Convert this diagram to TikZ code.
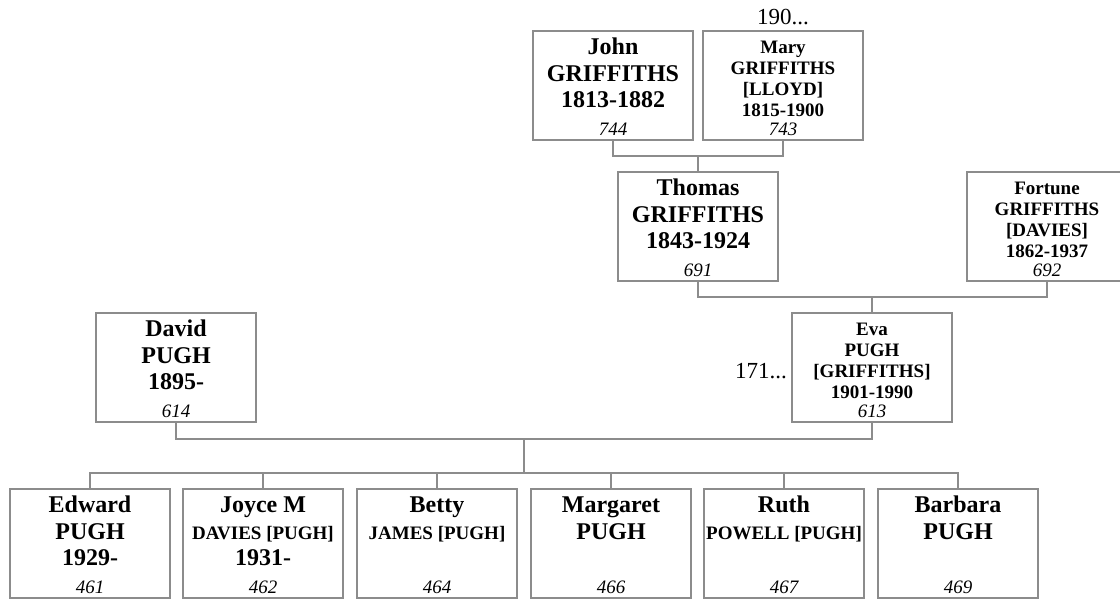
\documentclass[tikz,border=0pt]{standalone}
\usepackage{fontspec}
\setmainfont{Liberation Serif}
\definecolor{linec}{RGB}{140,140,140}
\tikzset{
  pbox/.style={draw=linec, line width=1.3pt, minimum width=160pt, minimum height=109pt, inner sep=0pt, outer sep=0pt},
  ptext/.style={anchor=north, align=center, inner sep=0pt, font=\fontsize{24}{26.7}\selectfont\bfseries},
  ptextsmall/.style={anchor=north, align=center, inner sep=0pt, font=\fontsize{19}{21}\selectfont\bfseries},
  pnum/.style={anchor=base, inner sep=0pt, font=\fontsize{19}{21}\selectfont\itshape},
  conn/.style={draw=linec, line width=1.3pt},
  extra/.style={inner sep=0pt, font=\fontsize{23}{25}\selectfont}
}
\newcommand\pbig[5]{%
  \node[pbox] (#1) at (#2,#3+54.5) {};
  \node[ptext] (#1-t) at (#2,#3+5.3) {\rule{0pt}{18pt}#4};
  \node[pnum] (#1-n) at (#2,#3+104.5) {#5};
}
\newcommand\psmall[5]{%
  \node[pbox] (#1) at (#2,#3+54.5) {};
  \node[ptextsmall] (#1-t) at (#2,#3+4.3) {\rule{0pt}{18pt}#4};
  \node[pnum] (#1-n) at (#2,#3+104.5) {#5};
}
\newcommand\sm[1]{{\fontsize{19}{21}\selectfont #1}}
\begin{document}
\begin{tikzpicture}[x=1pt,y=-1pt]
\useasboundingbox (0,0) rectangle (1120,599);
\clip (0,0) rectangle (1120,599);

% generation 1
\pbig{john}{613}{31}{John\\GRIFFITHS\\1813-1882}{744}
\psmall{mary}{783}{31}{Mary\\GRIFFITHS\\{[LLOYD]}\\1815-1900}{743}
\node[extra, anchor=base] (mary-x) at (783,25) {190...};

% generation 2
\pbig{thomas}{698}{172}{Thomas\\GRIFFITHS\\1843-1924}{691}
\psmall{fortune}{1047}{172}{Fortune\\GRIFFITHS\\{[DAVIES]}\\1862-1937}{692}

% generation 3
\pbig{david}{176}{313}{David\\PUGH\\1895-}{614}
\psmall{eva}{872}{313}{Eva\\PUGH\\{[GRIFFITHS]}\\1901-1990}{613}
\node[extra, anchor=base east] (eva-x) at (787,378.3) {171...};

% generation 4
\pbig{edward}{90}{489}{Edward\\PUGH\\1929-}{461}
\pbig{joyce}{263}{489}{Joyce M\\\sm{DAVIES [PUGH]}\\1931-}{462}
\pbig{betty}{437}{489}{Betty\\\sm{JAMES [PUGH]}}{464}
\pbig{margaret}{611}{489}{Margaret\\PUGH}{466}
\pbig{ruth}{784}{489}{Ruth\\\sm{POWELL [PUGH]}}{467}
\pbig{barbara}{958}{489}{Barbara\\PUGH}{469}

% connectors
\coordinate (p1) at (thomas.north |- 0,156);
\draw[conn] (john.south) |- (p1) -| (mary.south);
\draw[conn] (p1) -- (thomas.north);

\coordinate (p2) at (eva.north |- 0,297);
\draw[conn] (thomas.south) |- (p2) -| (fortune.south);
\draw[conn] (p2) -- (eva.north);

\coordinate (p3) at (524,439);
\coordinate (c) at (524,473);
\draw[conn] (david.south) |- (p3) -| (eva.south);
\draw[conn] (p3) -- (c);
\draw[conn] (edward.north) |- (c) -| (barbara.north);
\draw[conn] (joyce.north) -- (joyce.north |- c);
\draw[conn] (betty.north) -- (betty.north |- c);
\draw[conn] (margaret.north) -- (margaret.north |- c);
\draw[conn] (ruth.north) -- (ruth.north |- c);
\end{tikzpicture}
\end{document}
